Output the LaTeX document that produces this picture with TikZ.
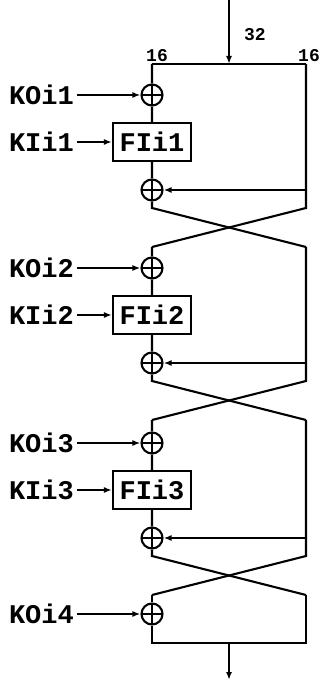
\documentclass[tikz,border=0pt]{standalone}
\usepackage{fontspec}
\setmonofont{Liberation Mono}
\usetikzlibrary{arrows.meta}
\newcommand{\keyfont}{\ttfamily\bfseries\fontsize{27}{27}\selectfont}
\newcommand{\bitfont}{\ttfamily\bfseries\fontsize{18}{18}\selectfont}
\begin{document}
\begin{tikzpicture}[x=1pt, y=-1pt, line width=2.1pt,
  xor/.style={circle, draw, minimum size=21pt, inner sep=0pt,
    path picture={\draw (path picture bounding box.north) -- (path picture bounding box.south)
      (path picture bounding box.west) -- (path picture bounding box.east);}},
  fibox/.style={draw, minimum width=78pt, minimum height=38pt, inner sep=0pt, font=\keyfont},
  keylbl/.style={anchor=west, inner sep=2pt, font=\keyfont},
  bitlbl/.style={inner sep=0pt, font=\bitfont},
  arr/.style={-{Latex[length=8pt,width=6pt]}},
]
  \useasboundingbox (0,0) rectangle (324,684);

  % input split
  \coordinate (in) at (229,0);
  \coordinate (split) at (229,64);
  \coordinate (lt1) at (152,64);
  \coordinate (rt1) at (306,64);
  \draw[arr] (in) -- (split);
  \draw (lt1) -- (rt1);
  \node[bitlbl, anchor=west] (w32) at (243,35) {32};
  \node[bitlbl, anchor=south] (w16l) at (157,63) {16};
  \node[bitlbl, anchor=south] (w16r) at (309,63) {16};

  % three FI rounds
  \foreach \i/\y/\t in {1/95/64, 2/268/247, 3/443/420}{
    \coordinate (lt\i) at (152,\t);
    \coordinate (rt\i) at (306,\t);
    \node[xor] (ko\i) at (152,\y) {};
    \node[keylbl] (kol\i) at (6,\y) {KOi\i};
    \draw[arr] (kol\i) -- (ko\i);
    \node[fibox] (fi\i) at (152,\y+47) {FIi\i};
    \node[keylbl] (kil\i) at (6,\y+47) {KIi\i};
    \draw[arr] (kil\i) -- (fi\i);
    \node[xor] (xr\i) at (152,\y+95) {};
    \coordinate (br\i) at (306,\y+95);
    \coordinate (la\i) at (152,\y+113);
    \coordinate (ra\i) at (306,\y+113);
    \coordinate (lb\i) at (152,\y+152);
    \coordinate (rb\i) at (306,\y+152);
    \draw (lt\i) -- (ko\i) -- (fi\i) -- (xr\i) -- (la\i) -- (rb\i);
    \draw (rt\i) -- (ra\i) -- (lb\i);
    \draw[arr] (br\i) -- (xr\i);
  }

  % last KO and output
  \node[xor] (ko4) at (152,614) {};
  \node[keylbl] (kol4) at (6,614) {KOi4};
  \draw[arr] (kol4) -- (ko4);
  \coordinate (lc) at (152,643);
  \coordinate (rc) at (306,643);
  \coordinate (join) at (229,643);
  \coordinate (out) at (229,680);
  \draw (lb3) -- (ko4) -- (lc) -- (rc) -- (rb3);
  \draw[arr] (join) -- (out);
\end{tikzpicture}
\end{document}
